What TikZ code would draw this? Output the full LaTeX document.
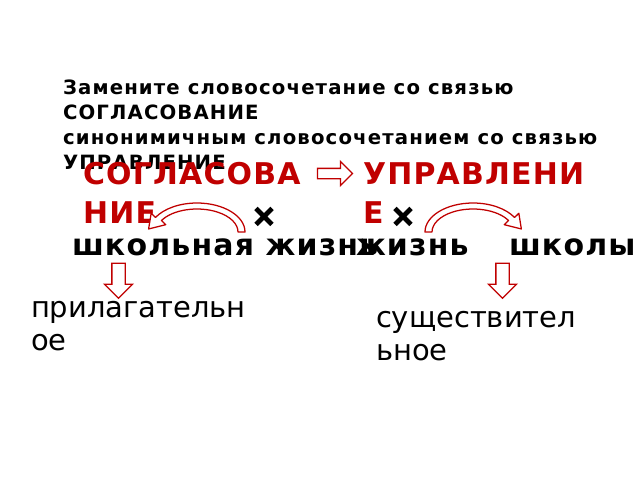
\documentclass[tikz,border=0pt]{standalone}
\usepackage{fontspec}
\setmainfont{DejaVu Sans}
\usetikzlibrary{shapes.arrows}
\definecolor{slidered}{RGB}{192,0,0}

\begin{document}
\begin{tikzpicture}[
  every node/.style={inner sep=0pt, outer sep=0pt},
  task/.style={anchor=base west, align=left, font=\bfseries\fontsize{14}{17.8}\selectfont\addfontfeatures{LetterSpace=5.8}},
  bond/.style={anchor=base west, align=left, text=slidered, font=\bfseries\fontsize{21.3}{27.5}\selectfont\addfontfeatures{LetterSpace=4}},
  word/.style={anchor=base west, font=\bfseries\fontsize{21.3}{27}\selectfont\addfontfeatures{LetterSpace=4}},
  part/.style={anchor=base west, align=left, font=\fontsize{20.6}{22.8}\selectfont},
  blockarrow/.style={single arrow, draw=slidered, fill=white, line width=0.9pt, inner xsep=0pt, minimum height=0.875cm},
  curvearrow/.style={draw=slidered, fill=white, line width=0.9pt, line join=round},
  cross/.style={line width=3.4pt}
]
\useasboundingbox (0,0) rectangle (16,12);
%task (base = last line)
\node[task] (task) at (1.575,7.7625) {Замените словосочетание со связью\\СОГЛАСОВАНИЕ\\синонимичным словосочетанием со связью\\УПРАВЛЕНИЕ};
%kinds of bond
\node[bond] (agree) at (2.075,6.425) {СОГЛАСОВА\\НИЕ};
\node[bond] (govern) at (9.075,6.425) {УПРАВЛЕНИ\\Е};
\node[blockarrow, inner ysep=0.1125cm, single arrow head extend=0.175cm] (to) at (8.3125,7.6625) {};
%phrases
\node[word] (phrase1) at (1.8,5.625) {школьная жизнь};
\node[word] (life2) at (8.9,5.625) {жизнь};
\node[word] (school2) at (12.725,5.625) {школы};
%crosses
\draw[cross] (6.4,6.79) -- (6.8,6.39) (6.4,6.39) -- (6.8,6.79);
\draw[cross] (9.875,6.79) -- (10.275,6.39) (9.875,6.39) -- (10.275,6.79);
%curved arrows
\draw[curvearrow] (5.95,6.2) -- (6.125,6.2) arc[start angle=0,end angle=150,x radius=1.2,y radius=0.725]
  -- (3.779,6.668) -- (3.715,6.275) -- (4.144,6.383) -- (4.037,6.4875)
  arc[start angle=150,end angle=0,x radius=1.025,y radius=0.575] -- cycle;
\draw[curvearrow] (10.8,6.2) -- (10.625,6.2) arc[start angle=180,end angle=30,x radius=1.2,y radius=0.725]
  -- (12.971,6.668) -- (13.034,6.275) -- (12.606,6.383) -- (12.713,6.4875)
  arc[start angle=30,end angle=180,x radius=1.025,y radius=0.575] -- cycle;
%parts of speech
\node[blockarrow, rotate=-90, inner ysep=0.15cm, single arrow head extend=0.1875cm] (down1) at (2.9625,5.0625) {};
\node[blockarrow, rotate=-90, inner ysep=0.15cm, single arrow head extend=0.1875cm] (down2) at (12.5625,5.0625) {};
\node[part] (adj) at (0.775,3.25) {прилагательн\\ое};
\node[part] (noun) at (9.4,3.0) {существител\\ьное};
\end{tikzpicture}
\end{document}
